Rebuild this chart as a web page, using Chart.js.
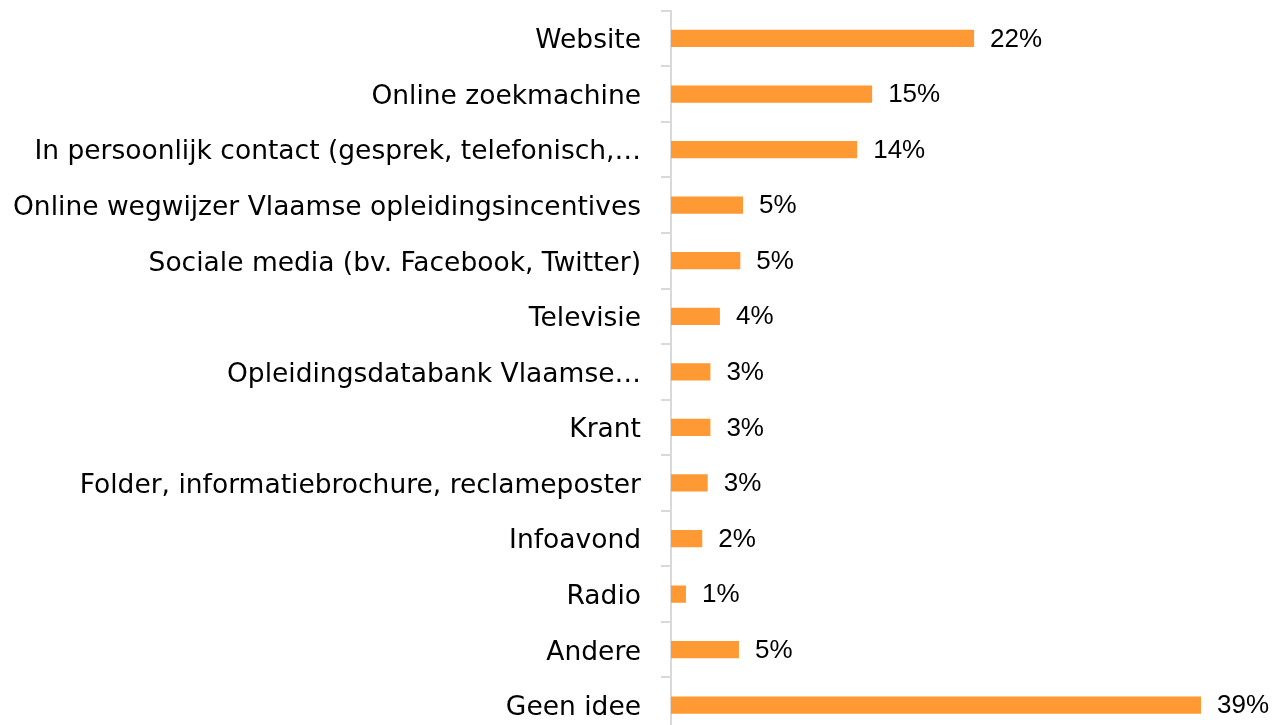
<!DOCTYPE html>
<html><head><meta charset="utf-8">
<script src="https://cdn.jsdelivr.net/npm/chart.js@4"></script>
<style>html,body{margin:0;padding:0;background:#fff;overflow:hidden;}#wrap{width:1276px;height:745px;}</style>
</head><body>
<div id="wrap"><canvas id="c" width="1276" height="745"></canvas></div>
<script>
const categories = ["Website","Online zoekmachine","In persoonlijk contact (gesprek, telefonisch,…","Online wegwijzer Vlaamse opleidingsincentives","Sociale media (bv. Facebook, Twitter)","Televisie","Opleidingsdatabank Vlaamse…","Krant","Folder, informatiebrochure, reclameposter","Infoavond","Radio","Andere","Geen idee"];
const values = [22.3,14.8,13.7,5.3,5.1,3.6,2.9,2.9,2.7,2.3,1.1,5.0,39.0];
const valueLabels = ["22%","15%","14%","5%","5%","4%","3%","3%","3%","2%","1%","5%","39%"];

const LABEL_FONT = "'DejaVu Sans', sans-serif";
const VALUE_FONT = "'Liberation Sans', Arial, sans-serif";
const valuePlugin = {
  id: 'valueLabels',
  afterDatasetsDraw(chart) {
    const ctx = chart.ctx;
    const meta = chart.getDatasetMeta(0);
    ctx.save();
    ctx.font = "26px " + VALUE_FONT;
    ctx.fillStyle = "#000";
    ctx.textAlign = "left";
    ctx.textBaseline = "middle";
    meta.data.forEach((bar, i) => {
      ctx.fillText(valueLabels[i], bar.x + 16, bar.y + 1);
    });
    ctx.restore();
  }
};

new Chart(document.getElementById('c'), {
  type: 'bar',
  data: { labels: categories, datasets: [{ data: values, backgroundColor: '#FF9933', borderWidth: 0, barPercentage: 0.62, categoryPercentage: 0.5 }] },
  options: {
    indexAxis: 'y', responsive: false, animation: false,
    layout: { padding: { top: 10.7, right: 7, bottom: 12, left: 0 } },
    plugins: { legend: { display: false }, tooltip: { enabled: false } },
    scales: {
      x: { min: 0, max: 44, display: false },
      y: {
        afterFit(s) { s.width = 671; s.paddingTop = 0; s.paddingBottom = 0; },
        border: { display: true, color: '#d9d9d9', width: 2 },
        grid: { display: true, drawOnChartArea: false, drawTicks: true, tickLength: 10, color: '#d9d9d9', lineWidth: 2, offset: true },
        ticks: { color: '#000', padding: 20, labelOffset: 3, font: { family: LABEL_FONT, size: 26.5 }, autoSkip: false }
      }
    }
  },
  plugins: [valuePlugin]
});
</script>
</body></html>
